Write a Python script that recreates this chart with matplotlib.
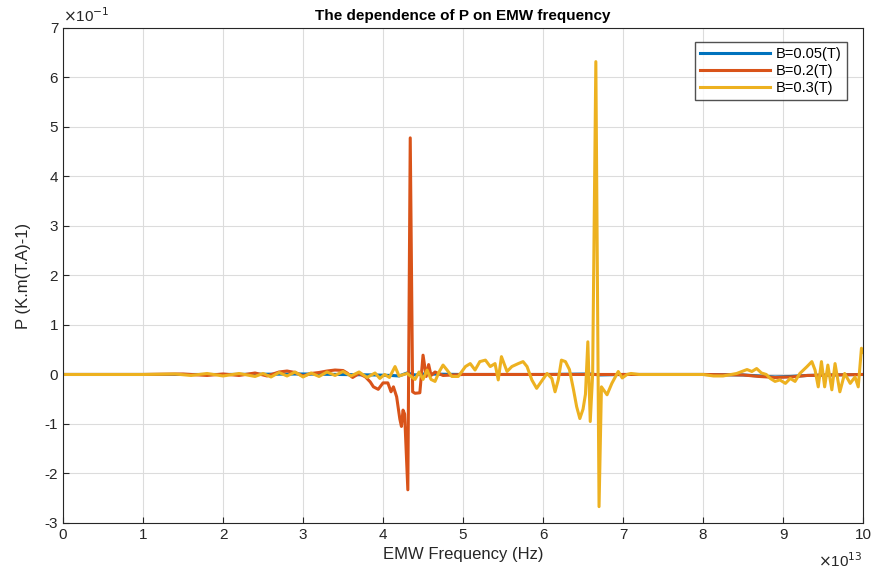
import numpy as np
import matplotlib.pyplot as plt
from matplotlib.ticker import FuncFormatter

plt.rcParams['font.family'] = ['Liberation Sans', 'DejaVu Sans']
plt.rcParams['axes.unicode_minus'] = False

# frequencies in units of 1e13 Hz, P in units of 1e-1
x_b005 = [0, 1.0, 2.0, 3.0, 3.9, 4.1, 4.2, 4.3, 4.4, 4.5, 5.0, 6.0, 6.6, 6.7, 7.0, 8.0, 8.5, 8.7, 8.9, 9.1, 9.3, 9.6, 10.0]
p_b005 = [0, 0, 0.0, 0.01, -0.01, -0.02, -0.03, 0.03, -0.01, 0.01, 0, 0, 0.01, -0.01, 0, 0, -0.01, -0.03, -0.05, -0.04, -0.02, -0.01, 0]

x_b02 = [0, 1.0, 1.5, 1.8, 2.0, 2.2, 2.4, 2.55, 2.7, 2.8, 2.9, 3.0, 3.1, 3.2, 3.3,
         3.4, 3.5, 3.55, 3.62, 3.7, 3.78, 3.84, 3.88, 3.94, 4.0, 4.06, 4.1, 4.13,
         4.17, 4.21, 4.23, 4.25, 4.27, 4.31, 4.34, 4.37, 4.40, 4.46, 4.50, 4.54,
         4.57, 4.60, 4.65, 4.75, 5.0, 6.0, 7.0, 8.0, 8.5, 8.7, 8.9, 9.1, 9.3, 9.6, 10.0]
p_b02 = [0, 0, 0.01, -0.02, 0.01, -0.02, 0.03, -0.03, 0.05, 0.07, 0.04, -0.03, 0.02,
         0.04, 0.07, 0.09, 0.08, 0.03, -0.06, 0.02, -0.05, -0.15, -0.25, -0.3, -0.17,
         -0.17, -0.35, -0.25, -0.45, -0.9, -1.05, -0.72, -0.8, -2.33, 4.78, -0.35,
         -0.38, -0.37, 0.39, -0.04, 0.2, -0.02, 0.05, -0.02, 0.0, 0.0, 0.0, 0.0,
         -0.01, -0.04, -0.06, -0.05, -0.02, -0.01, 0]

x_b03 = [0, 1.0, 1.4, 1.6, 1.8, 2.0, 2.2, 2.4, 2.5, 2.6, 2.7, 2.8, 2.9, 3.0, 3.1,
         3.2, 3.3, 3.4, 3.5, 3.6, 3.7, 3.8, 3.9, 3.96, 4.02, 4.08, 4.15, 4.2, 4.3,
         4.4, 4.45, 4.5, 4.55, 4.6, 4.65, 4.7, 4.75, 4.80, 4.86, 4.94, 5.03, 5.09,
         5.15, 5.21, 5.28, 5.34, 5.40, 5.44, 5.48, 5.55, 5.61, 5.69, 5.75, 5.80,
         5.86, 5.92, 5.98, 6.05, 6.11, 6.15, 6.19, 6.23, 6.28, 6.33, 6.38, 6.42,
         6.46, 6.50, 6.53, 6.56, 6.59, 6.62, 6.66, 6.70, 6.73, 6.80, 6.86, 6.94,
         6.99, 7.05, 7.1, 7.2, 8.0, 8.13, 8.25, 8.42, 8.55, 8.61, 8.67, 8.73, 8.79,
         8.84, 8.9, 8.96, 9.03, 9.09, 9.15, 9.21, 9.30, 9.36, 9.40, 9.44, 9.48,
         9.52, 9.56, 9.61, 9.65, 9.71, 9.77, 9.84, 9.90, 9.94, 9.98, 10.0]
p_b03 = [0, 0, 0.01, -0.02, 0.02, -0.03, 0.02, -0.04, 0.02, -0.05, 0.04, -0.03,
         0.05, -0.05, 0.03, -0.04, 0.05, -0.02, 0.06, -0.03, 0.05, -0.06, 0.03,
         -0.08, 0.0, -0.06, 0.16, -0.03, 0.02, -0.1, 0.05, -0.1, 0.09, -0.1, -0.14,
         0.05, 0.19, 0.09, -0.04, -0.04, 0.16, 0.22, 0.09, 0.26, 0.29, 0.16, 0.22,
         -0.11, 0.36, 0.06, 0.16, 0.22, 0.26, 0.16, -0.11, -0.28, -0.14, 0.02,
         -0.08, -0.35, -0.11, 0.29, 0.26, 0.1, -0.3, -0.65, -0.89, -0.7, -0.4,
         0.66, -0.95, 0.0, 6.32, -2.67, -0.25, -0.41, -0.18, 0.06, -0.07, 0.0,
         0.02, 0.0, 0.0, -0.03, -0.03, 0.02, 0.1, 0.06, 0.12, 0.03, 0.0, -0.08,
         -0.14, -0.11, -0.18, -0.08, -0.14, 0.02, 0.16, 0.26, 0.09, -0.25, 0.26,
         -0.25, 0.19, -0.31, 0.22, -0.35, 0.02, -0.18, -0.05, -0.25, 0.53, 0.45]

xs = 1e13
ys = 1e-1
dark = '#262626'

fig = plt.figure(figsize=(8.73, 5.72), dpi=100)
ax = fig.add_axes([0.0722, 0.0857, 0.9164, 0.8654])

ax.plot(np.array(x_b005) * xs, np.array(p_b005) * ys, color='#0072BD', lw=2.2, label='B=0.05(T)')
ax.plot(np.array(x_b02) * xs, np.array(p_b02) * ys, color='#D95319', lw=2.2, label='B=0.2(T)')
ax.plot(np.array(x_b03) * xs, np.array(p_b03) * ys, color='#EDB120', lw=2.2, label='B=0.3(T)')

ax.set_xlim(0, 1e14)
ax.set_ylim(-0.3, 0.7)
ax.set_xticks(np.arange(0, 11) * xs)
ax.set_yticks(np.arange(-3, 8) * ys)
ax.xaxis.set_major_formatter(FuncFormatter(lambda v, _: f'{v / xs:.0f}'))
ax.yaxis.set_major_formatter(FuncFormatter(lambda v, _: f'{round(v / ys):d}'))

ax.text(0.0, 1.005, r'$\times$10$^{-1}$', transform=ax.transAxes, fontsize=11,
        color=dark, ha='left', va='bottom')
ax.text(1.0, -0.088, r'$\times$10$^{13}$', transform=ax.transAxes, fontsize=11,
        color=dark, ha='right', va='baseline')

ax.grid(True, color='#dcdcdc', lw=0.8)
ax.tick_params(direction='in', length=4, labelsize=11, colors=dark)
for s in ax.spines.values():
    s.set_color(dark)
    s.set_linewidth(0.8)

ax.set_title('The dependence of P on EMW frequency', fontsize=11, fontweight='bold')
ax.set_xlabel('EMW Frequency (Hz)', fontsize=12, color=dark)
ax.set_ylabel('P (K.m(T.A)-1)', fontsize=12, color=dark, labelpad=10)
ax.legend(loc='upper right', bbox_to_anchor=(0.98, 0.972), fontsize=10.5, handlelength=4.8,
          fancybox=False, edgecolor=dark, borderpad=0.35, labelspacing=0.22,
          handletextpad=0.4, borderaxespad=0)

fig.savefig('out.png', dpi=100)
